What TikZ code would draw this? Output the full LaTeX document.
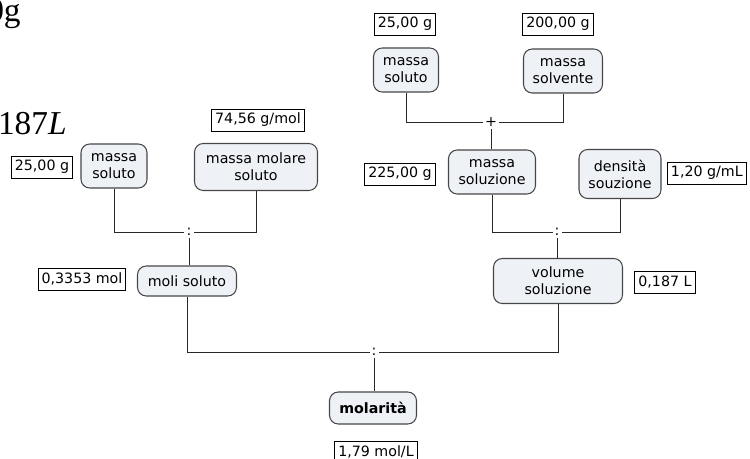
\documentclass[tikz,border=0pt]{standalone}
\usepackage{fontspec}
\setmainfont{DejaVu Sans}
\newfontfamily\eqfont{Liberation Serif}
\definecolor{conceptfill}{RGB}{238, 241, 246}
\definecolor{conceptline}{RGB}{70, 70, 70}
\definecolor{linkgray}{RGB}{40, 40, 40}
\usepackage{tikz}
\usetikzlibrary{positioning, calc}

\begin{document}
\begin{tikzpicture}[x=0.02cm, y=-0.02cm,
  concept/.style={draw=conceptline, fill=conceptfill, rounded corners=5pt, line width=0.6pt,
    align=center, inner sep=1pt, font=\fontsize{8.1}{9.6}\selectfont},
  valbox/.style={draw=black, fill=white, line width=0.5pt, inner xsep=2pt, inner ysep=1.5pt,
    minimum height=22*0.02cm, font=\fontsize{8.1}{9.6}\selectfont},
  junct/.style={inner sep=1pt, font=\fontsize{8.1}{9.6}\selectfont},
  link/.style={draw=linkgray, line width=0.5pt}]
  \useasboundingbox (0,0) rectangle (750,459);

  % formula text cut by the page edge
  \node[anchor=base east, font=\eqfont\fontsize{19}{22}\selectfont, inner sep=0pt] (eqa) at (21,22) {200,00g};
  \node[anchor=base east, font=\eqfont\fontsize{19}{22}\selectfont, inner sep=0pt] (eqb) at (67,135) {0,187\textit{L}};

  % left branch
  \node[concept, minimum width=66*0.02cm, minimum height=44*0.02cm] (msl) at (114,166) {massa\\soluto};
  \node[valbox] (vmsl) at (42,167) {25,00 g};
  \node[concept, minimum width=123*0.02cm, minimum height=47*0.02cm] (mm) at (256,167) {massa molare\\soluto};
  \node[valbox] (vmm) at (258,120) {74,56 g/mol};
  \node[junct] (j1) at (189,232) {:};
  \node[concept, minimum width=99*0.02cm, minimum height=30*0.02cm] (moli) at (187,281) {moli soluto};
  \node[valbox] (vmoli) at (82,279) {0,3353 mol};

  % right branch
  \node[valbox] (vms) at (405,24) {25,00 g};
  \node[valbox] (vsolv) at (558,24) {200,00 g};
  \node[concept, minimum width=65*0.02cm, minimum height=44*0.02cm] (ms) at (406,70) {massa\\soluto};
  \node[concept, minimum width=79*0.02cm, minimum height=44*0.02cm] (solv) at (563,71) {massa\\solvente};
  \node[junct] (j2) at (491,122) {+};
  \node[concept, minimum width=87*0.02cm, minimum height=44*0.02cm] (msz) at (492,172) {massa\\soluzione};
  \node[valbox] (vmsz) at (400,174) {225,00 g};
  \node[concept, minimum width=82*0.02cm, minimum height=49*0.02cm] (dens) at (620,174) {densità\\souzione};
  \node[valbox, anchor=west] (vdens) at (667,173) {1,20 g/mL};
  \node[junct] (j3) at (557,232) {:};
  \node[concept, minimum width=129*0.02cm, minimum height=45*0.02cm] (vol) at (558,281) {volume\\soluzione};
  \node[valbox] (vvol) at (665,282) {0,187 L};

  % result
  \node[junct] (j4) at (374,352) {:};
  \node[concept, minimum width=87*0.02cm, minimum height=32*0.02cm, font=\fontsize{8.1}{9.6}\selectfont\bfseries] (mol) at (373,408) {molarità};
  \node[valbox] (vmol) at (376,452) {1,79 mol/L};

  % connectors
  \draw[link] (msl.south) |- (j1.west);
  \draw[link] (mm.south) |- (j1.east);
  \draw[link] (j1.south) -- (moli.north -| j1.south);
  \draw[link] (ms.south) |- (j2.west);
  \draw[link] (solv.south) |- (j2.east);
  \draw[link] (j2.south) -- (msz.north -| j2.south);
  \draw[link] (msz.south) |- (j3.west);
  \draw[link] (dens.south) |- (j3.east);
  \draw[link] (j3.south) -- (vol.north -| j3.south);
  \draw[link] (moli.south) |- (j4.west);
  \draw[link] (vol.south) |- (j4.east);
  \draw[link] (j4.south) -- (mol.north -| j4.south);
\end{tikzpicture}
\end{document}
